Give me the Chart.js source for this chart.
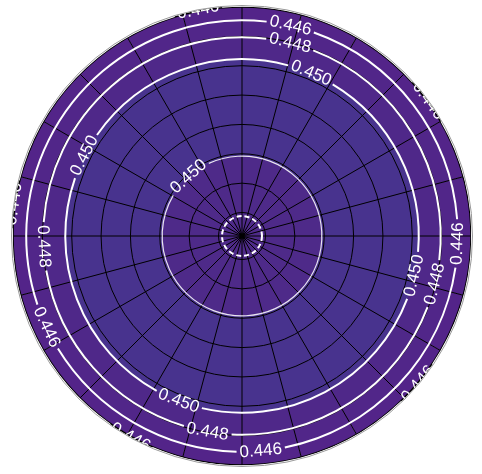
<!DOCTYPE html>
<html>
<head>
<meta charset="utf-8">
<script src="https://cdn.jsdelivr.net/npm/chart.js@4.4.0/dist/chart.umd.min.js"></script>
<style>
html, body { margin: 0; padding: 0; background: #fff; }
</style>
</head>
<body>
<canvas id="myChart" width="482" height="474"></canvas>
<script>
// 24 angular sectors of 15 degrees
const sectors = ['0', '15', '30', '45', '60', '75', '90', '105', '120', '135', '150', '165',
                 '180', '195', '210', '225', '240', '255', '270', '285', '300', '315', '330', '345'];

// radial axis
const rMax = 7.8;
const ringTicks = [0, 0.8, 1.8, 2.8, 3.8, 4.8, 5.8, 6.8, 7.8];

// filled bands (outer radius of each band, innermost first)
const bandRadius = [0.68, 2.72, 6.02, 6.77, 7.35, 7.8];
const bandColors = ['#4e2a89', '#4e2a89', '#48338e', '#4f2889', '#512689', '#532489'];

// contour lines
const contourRadius = [0.68, 2.72, 6.02, 6.77, 7.35, 7.84];
const contourLevels = ['', '0.450', '0.450', '0.448', '0.446', '0.446'];
// where the inline labels sit, degrees counter-clockwise from east
const labelAngles = [[], [132], [67, 153, 249, 347], [76, 183, 260, 346], [77, 205, 275, 358], [36, 101, 172, 241, 320]];

const contourPlugin = {
    id: 'contours',
    afterDraw(chart) {
        const scale = chart.scales.r;
        const ctx = chart.ctx;
        const xc = scale.xCenter, yc = scale.yCenter;
        ctx.save();
        ctx.font = '17px "Liberation Sans"';
        ctx.textAlign = 'center';
        ctx.textBaseline = 'middle';

        for (var i = 0; i < contourRadius.length; i++) {
            const rp = scale.getDistanceFromCenterForValue(contourRadius[i]);
            const text = contourLevels[i];
            const tw = ctx.measureText(text).width;

            ctx.strokeStyle = i == 1 ? '#e8e4f0' : '#fff';
            ctx.lineWidth = i == 1 ? 1.2 : 2;
            ctx.setLineDash(i == 0 ? [5, 3] : []);

            // line broken where labels sit
            var gaps = labelAngles[i].map(function(a) {
                var half = (tw / 2 + 3) / rp;
                var c = a * Math.PI / 180;
                return [c - half, c + half];
            }).sort(function(p, q) { return p[0] - q[0]; });

            if (gaps.length == 0) {
                ctx.beginPath();
                ctx.arc(xc, yc, rp, 0, Math.PI * 2);
                ctx.stroke();
            } else {
                for (var k = 0; k < gaps.length; k++) {
                    var a1 = gaps[k][1];
                    var a2 = k < gaps.length - 1 ? gaps[k + 1][0] : gaps[0][0] + Math.PI * 2;
                    ctx.beginPath();
                    ctx.arc(xc, yc, rp, -a2, -a1, false);
                    ctx.stroke();
                }
            }

            // labels
            ctx.fillStyle = '#fff';
            labelAngles[i].forEach(function(a) {
                var c = a * Math.PI / 180;
                var x = xc + rp * Math.cos(c);
                var y = yc - rp * Math.sin(c);
                var t = (a + 90) % 360;
                if (t > 180) t -= 360;
                if (t > 90) t -= 180;
                if (t <= -90) t += 180;
                ctx.save();
                ctx.translate(x, y);
                ctx.rotate(-t * Math.PI / 180);
                ctx.fillText(text, 0, 0);
                ctx.restore();
            });
        }

        // thin grey rim just outside the spine
        ctx.setLineDash([]);
        ctx.strokeStyle = '#9a9a9a';
        ctx.lineWidth = 1;
        ctx.beginPath();
        ctx.arc(xc, yc, scale.drawingArea + 1.5, 0, Math.PI * 2);
        ctx.stroke();
        ctx.restore();
    }
};

const ctx = document.getElementById('myChart');
new Chart(ctx, {
    type: 'polarArea',
    data: {
        labels: sectors,
        datasets: bandRadius.map(function(r, i) {
            return {
                data: sectors.map(function() { return r; }),
                backgroundColor: bandColors[i],
                borderWidth: 0
            };
        })
    },
    options: {
        responsive: false,
        animation: false,
        devicePixelRatio: 1,
        layout: { padding: { left: 2, right: 0, top: 7, bottom: 9 } },
        plugins: {
            legend: { display: false },
            tooltip: { enabled: false }
        },
        scales: {
            r: {
                min: 0,
                max: rMax,
                ticks: { display: false },
                afterBuildTicks: function(axis) {
                    axis.ticks = ringTicks.map(function(v) { return { value: v }; });
                },
                grid: {
                    circular: true,
                    color: '#000',
                    lineWidth: function(c) { return c.index == ringTicks.length - 1 ? 1.5 : 1; },
                    z: 1
                },
                angleLines: { display: true, color: '#000', lineWidth: 1 },
                pointLabels: { display: false }
            }
        }
    },
    plugins: [contourPlugin]
});
</script>
</body>
</html>
